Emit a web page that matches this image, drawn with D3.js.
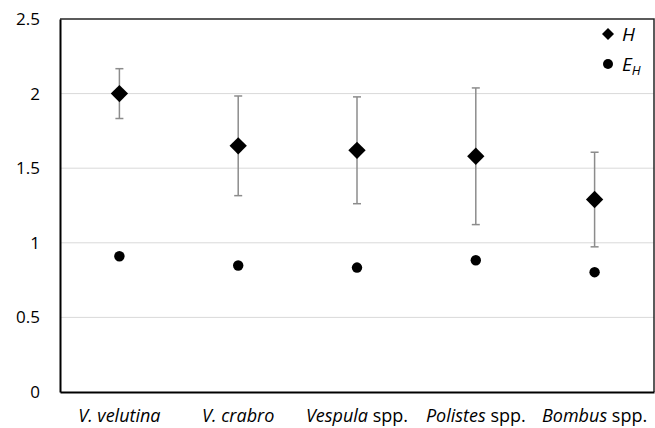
<!DOCTYPE html>
<html>
<head>
  <meta charset="utf-8">
  <title>H and E_H by taxon</title>
  <script src="https://d3js.org/d3.v7.min.js"></script>
  <style>
    body { margin: 0; background: #fff; }
    text { font-family: "Open Sans", "Noto Sans", sans-serif; fill: #000; }
  </style>
</head>
<body>
  <div id="chart"></div>

  <script>
    // Data
    const categories = ["V. velutina", "V. crabro", "Vespula spp.", "Polistes spp.", "Bombus spp."];
    // italic part of each label, the rest is upright
    const labelItalic = ["V. velutina", "V. crabro", "Vespula", "Polistes", "Bombus"];
    const labelPlain = ["", "", " spp.", " spp.", " spp."];
    const hValues = [2.0, 1.65, 1.62, 1.58, 1.29];
    const hError = [0.167, 0.334, 0.358, 0.458, 0.317];
    const ehValues = [0.91, 0.848, 0.834, 0.883, 0.803];
    const yTicks = [0, 0.5, 1, 1.5, 2, 2.5];

    const width = 655, height = 428;
    const margin = { top: 19, right: 1, bottom: 36, left: 60 };
    const innerW = width - margin.left - margin.right,
          innerH = height - margin.top - margin.bottom;

    const svg = d3.select("#chart")
      .append("svg")
      .attr("width", width)
      .attr("height", height);

    const g = svg.append("g")
      .attr("transform", "translate(" + margin.left + "," + margin.top + ")");

    const x = d3.scaleBand()
      .domain(categories)
      .range([0, innerW]);

    const y = d3.scaleLinear()
      .domain([0, 2.5])
      .range([innerH, 0]);

    const cx = d => x(d) + x.bandwidth() / 2;

    // gridlines
    g.selectAll(".grid")
      .data(yTicks.filter(t => t > 0 && t < 2.5))
      .enter()
      .append("line")
      .attr("x1", 0)
      .attr("x2", innerW)
      .attr("y1", d => y(d))
      .attr("y2", d => y(d))
      .attr("stroke", "#d9d9d9")
      .attr("stroke-width", 1);

    // top and right border of plot area
    g.append("path")
      .attr("d", "M0," + y(2.5) + "H" + innerW + "V" + y(0))
      .attr("fill", "none")
      .attr("stroke", "#262626")
      .attr("stroke-width", 1.5);

    // y axis
    const yAxis = g.append("g")
      .call(d3.axisLeft(y).tickValues(yTicks).tickFormat(d3.format("")).tickSize(0).tickPadding(20));
    yAxis.select(".domain").attr("stroke", "#000").attr("stroke-width", 2);
    yAxis.selectAll("text").style("font-size", "17px").attr("font-family", null);

    // x axis
    const xAxis = g.append("g")
      .attr("transform", "translate(0," + innerH + ")")
      .call(d3.axisBottom(x).tickSize(0).tickFormat(""));
    xAxis.select(".domain").attr("stroke", "#000").attr("stroke-width", 2);

    // category labels with italic genus names
    const labels = g.selectAll(".cat")
      .data(categories)
      .enter()
      .append("text")
      .attr("class", "cat")
      .attr("x", d => cx(d))
      .attr("y", innerH + 30)
      .attr("text-anchor", "middle")
      .style("font-size", "18px");
    labels.append("tspan")
      .style("font-style", "italic")
      .text((d, i) => labelItalic[i]);
    labels.append("tspan")
      .text((d, i) => labelPlain[i]);

    // error bars
    const eb = g.selectAll(".err")
      .data(categories)
      .enter()
      .append("g")
      .attr("stroke", "#8c8c8c")
      .attr("stroke-width", 1.5);
    eb.append("line")
      .attr("x1", d => cx(d)).attr("x2", d => cx(d))
      .attr("y1", (d, i) => y(hValues[i] + hError[i]))
      .attr("y2", (d, i) => y(hValues[i] - hError[i]));
    eb.append("line")
      .attr("x1", d => cx(d) - 4).attr("x2", d => cx(d) + 4)
      .attr("y1", (d, i) => y(hValues[i] + hError[i]))
      .attr("y2", (d, i) => y(hValues[i] + hError[i]));
    eb.append("line")
      .attr("x1", d => cx(d) - 4).attr("x2", d => cx(d) + 4)
      .attr("y1", (d, i) => y(hValues[i] - hError[i]))
      .attr("y2", (d, i) => y(hValues[i] - hError[i]));

    // H diamonds
    const diamond = d3.symbol().type(d3.symbolSquare).size(150);
    g.selectAll(".h")
      .data(categories)
      .enter()
      .append("path")
      .attr("d", diamond)
      .attr("transform", (d, i) => "translate(" + cx(d) + "," + y(hValues[i]) + ") rotate(45)")
      .attr("fill", "#000");

    // E_H circles
    g.selectAll(".eh")
      .data(categories)
      .enter()
      .append("circle")
      .attr("cx", d => cx(d))
      .attr("cy", (d, i) => y(ehValues[i]))
      .attr("r", 5.2)
      .attr("fill", "#000");

    // legend
    const legend = svg.append("g").attr("transform", "translate(608,34)");
    legend.append("path")
      .attr("d", d3.symbol().type(d3.symbolSquare).size(72))
      .attr("transform", "rotate(45)")
      .attr("fill", "#000");
    legend.append("text")
      .attr("x", 14).attr("y", 7)
      .style("font-size", "19px")
      .style("font-style", "italic")
      .text("H");
    legend.append("circle")
      .attr("cx", 0).attr("cy", 30).attr("r", 5)
      .attr("fill", "#000");
    const eh = legend.append("text")
      .attr("x", 14).attr("y", 37)
      .style("font-size", "19px")
      .style("font-style", "italic");
    eh.append("tspan").text("E");
    eh.append("tspan")
      .attr("dy", 4)
      .style("font-size", "13px")
      .text("H");
  </script>
</body>
</html>
